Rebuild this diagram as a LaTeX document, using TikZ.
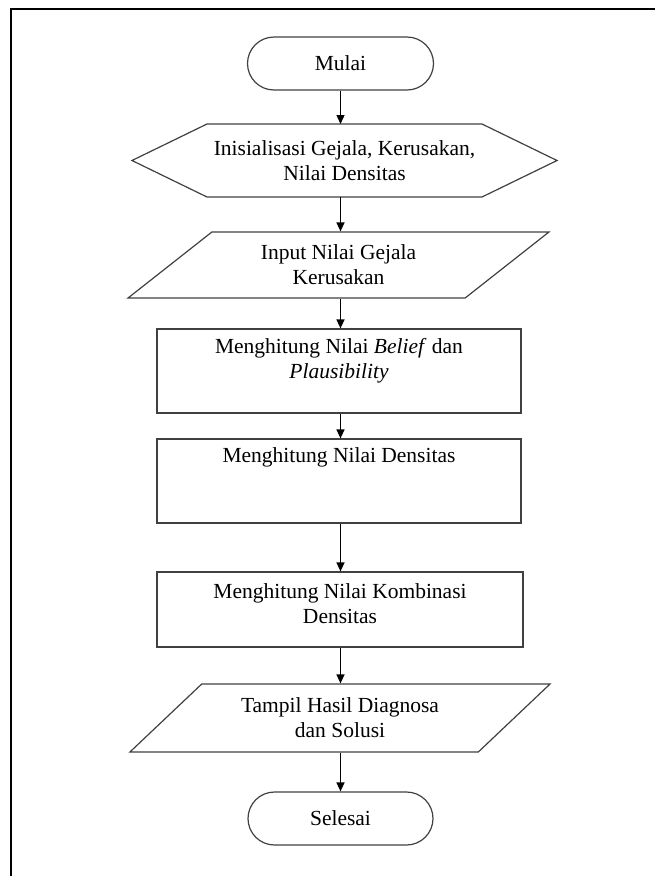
\documentclass[tikz,border=0pt]{standalone}
\usepackage{fontspec}
\setmainfont{Liberation Serif}
\usetikzlibrary{arrows,arrows.meta,calc,shapes.misc,shapes.geometric}

\tikzset{
  outline/.style={draw=black!75, line width=1.2pt},
  terminal/.style={outline, rounded rectangle, minimum width=186pt, minimum height=53pt, inner sep=0pt},
  process/.style={outline, rectangle, minimum width=364pt, minimum height=84pt, inner sep=0pt},
  inout/.style={outline, trapezium, trapezium left angle=38, trapezium right angle=142,
    trapezium stretches=true, minimum width=421pt, minimum height=66pt, inner sep=0pt, align=center},
  blocktext/.style={align=center, inner sep=0pt},
  flow/.style={-{Triangle[length=9pt,width=8pt]}, line width=1.3pt}
}

\begin{document}
\begin{tikzpicture}[x=1pt,y=-1pt,font=\fontsize{21.5}{25}\selectfont]
  \useasboundingbox (0,0) rectangle (655,876);
  % page frame
  \draw[line width=1.8pt] (11,876) |- (655,9);

  \node[terminal] (mulai) at (340.5, 63.5) {Mulai};

  % preparation (hexagon)
  \node[blocktext, minimum width=425pt, minimum height=73pt, outer sep=0pt] (inisial) at (344.5, 160.5)
    {Inisialisasi Gejala, Kerusakan,\\Nilai Densitas};
  \draw[outline] (inisial.west) -- ($(inisial.north west) + (75, 0)$) -- ($(inisial.north east) + (-75, 0)$)
    -- (inisial.east) -- ($(inisial.south east) + (-75, 0)$) -- ($(inisial.south west) + (75, 0)$) -- cycle;

  \node[inout] (input) at (338.5, 265) {Input Nilai Gejala\\Kerusakan};

  \node[process] (belief) at (339, 371) {};
  \node[blocktext] (belief text) at ($(belief.north) + (0, 32.5)$)
    {Menghitung Nilai \textit{Belief} dan\\\textit{Plausibility}};

  \node[process] (densitas) at (339, 481) {};
  \node[blocktext] (densitas text) at ($(densitas.north) + (0, 19)$) {Menghitung Nilai Densitas};

  \node[process, minimum width=366pt, minimum height=75pt] (kombinasi) at (340, 609.5) {};
  \node[blocktext] (kombinasi text) at ($(kombinasi.north) + (0, 32)$)
    {Menghitung Nilai Kombinasi\\Densitas};

  \node[inout, minimum width=422pt, minimum height=68pt] (tampil) at (340, 718) {Tampil Hasil Diagnosa\\dan Solusi};

  \node[terminal, minimum width=185pt] (selesai) at (340.5, 818.5) {Selesai};

  % flow lines
  \foreach \from/\to in {mulai/inisial, inisial/input, input/belief, belief/densitas,
      densitas/kombinasi, kombinasi/tampil, tampil/selesai}
    \draw[flow] (\from.south -| mulai) -- (\to.north -| mulai);
\end{tikzpicture}
\end{document}
